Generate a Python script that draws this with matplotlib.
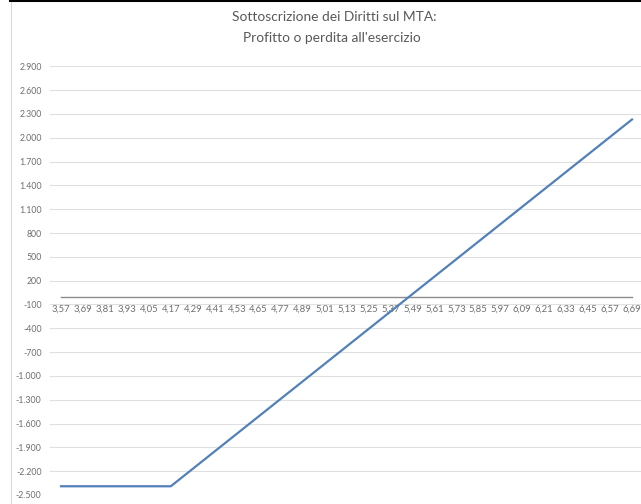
import numpy as np
import matplotlib
matplotlib.use("Agg")
import matplotlib.pyplot as plt

plt.rcParams["font.family"] = ["Lato", "DejaVu Sans"]

# prezzo del titolo (etichette asse x)
prezzi = ["3,57", "3,69", "3,81", "3,93", "4,05", "4,17", "4,29", "4,41", "4,53",
          "4,65", "4,77", "4,89", "5,01", "5,13", "5,25", "5,37", "5,49", "5,61",
          "5,73", "5,85", "5,97", "6,09", "6,21", "6,33", "6,45", "6,57", "6,69"]
# profitto / perdita all'esercizio
profitto = [-2390, -2390, -2390, -2390, -2390, -2390, -2170, -1950, -1730,
            -1510, -1290, -1070, -850, -630, -410, -190, 30, 250,
            470, 690, 910, 1130, 1350, 1570, 1790, 2010, 2230]
# tacche asse y
y_ticks = [2900, 2600, 2300, 2000, 1700, 1400, 1100, 800, 500, 200, -100,
           -400, -700, -1000, -1300, -1600, -1900, -2200, -2500]
y_labels = ["2.900", "2.600", "2.300", "2.000", "1.700", "1.400", "1.100", "800",
            "500", "200", "-100", "-400", "-700", "-1.000", "-1.300", "-1.600",
            "-1.900", "-2.200", "-2.500"]

W, H = 641, 504
fig = plt.figure(figsize=(W / 100, H / 100), dpi=100)
fig.patch.set_facecolor("white")

# plot area in pixel
left, right, top, bottom = 50, 641, 66.3, 495
ax = fig.add_axes([left / W, 1 - bottom / H, (right - left) / W, (bottom - top) / H])

x = np.arange(len(prezzi))
ax.plot(x, profitto, color="#5281B9", lw=1.6, solid_joinstyle="miter", zorder=3)

ax.set_ylim(-2500, 2900)
step = (632 - 61) / (len(prezzi) - 1)
ax.set_xlim(-(61 - left) / step, len(prezzi) - 1 + (right - 632) / step)

ax.set_yticks(y_ticks)
ax.set_yticklabels(y_labels)
ax.grid(axis="y", color="#E0E0E0", lw=0.8)
ax.set_axisbelow(True)

for s in ["top", "right", "left"]:
    ax.spines[s].set_visible(False)
ax.spines["bottom"].set_position(("data", 0))
ax.spines["bottom"].set_bounds(0, len(prezzi) - 1)
ax.spines["bottom"].set_color("#8C8C8C")
ax.spines["bottom"].set_linewidth(1.0)
ax.spines["bottom"].set_zorder(2)

ax.set_xticks(x)
ax.set_xticklabels(prezzi)
ax.tick_params(axis="x", length=0, pad=6, labelsize=6.8, labelcolor="#6E6E6E")
ax.tick_params(axis="y", length=0, pad=6, labelsize=6.3, labelcolor="#6E6E6E")

fig.text(334 / W, 1 - 17 / H, "Sottoscrizione dei Diritti sul MTA:", ha="center",
         va="center", fontsize=9.9, color="#595959")
fig.text(332 / W, 1 - 38 / H, "Profitto o perdita all'esercizio", ha="center",
         va="center", fontsize=9.9, color="#595959")

# cornice: linea nera in alto e bordo grigio a sinistra
fig.add_artist(plt.Line2D([10 / W, 1], [1 - 1 / H, 1 - 1 / H], color="black", lw=1.5))
fig.add_artist(plt.Line2D([11 / W, 11 / W], [0, 1 - 2 / H], color="#D9D9D9", lw=0.8))

fig.savefig("out.png", dpi=100)
